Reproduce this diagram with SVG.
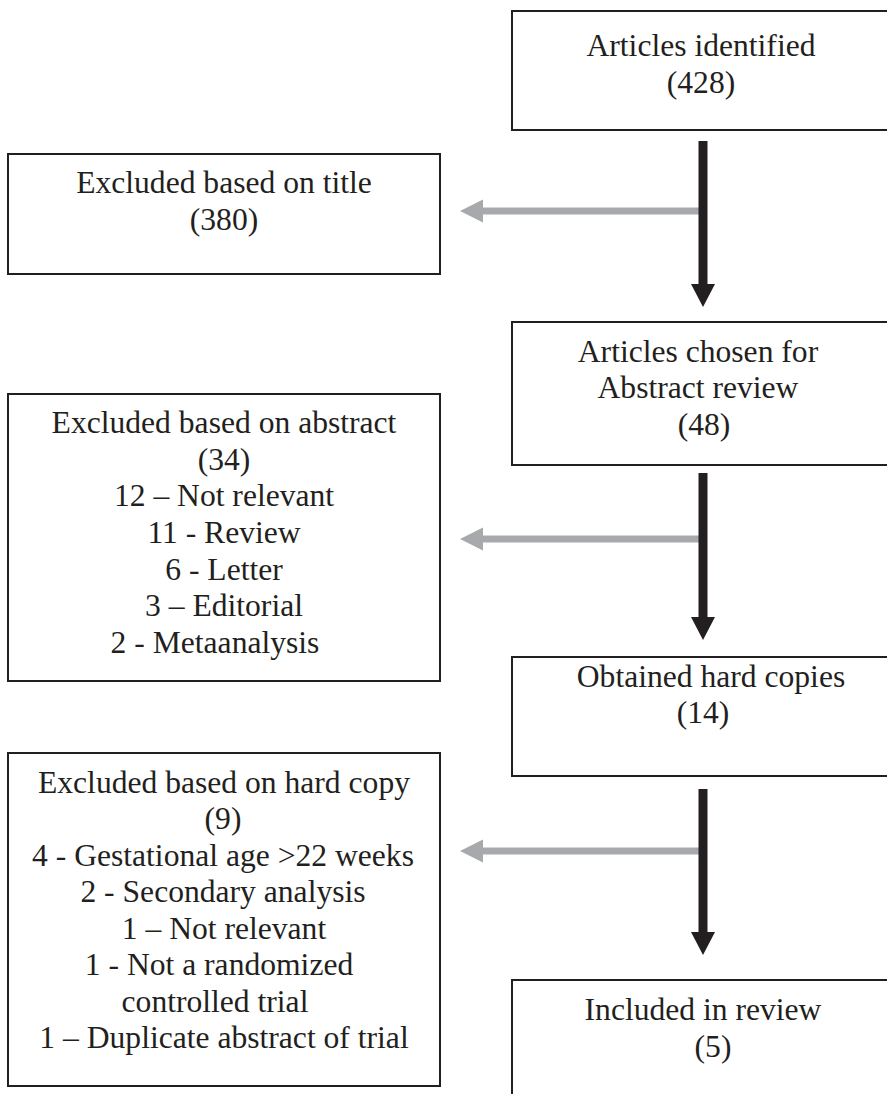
<svg xmlns="http://www.w3.org/2000/svg" width="887" height="1094" viewBox="0 0 887 1094">
<style>
.box{fill:#fff;stroke:#231F20;stroke-width:2}
text{font-family:"Liberation Serif","Times New Roman",serif;font-size:31.6px;fill:#231F20;text-anchor:middle}
.blk{fill:#231F20}
.gry{fill:#A7A9AC}
</style>
<rect width="887" height="1094" fill="#fff"/>
<g id="connectors">
  <path class="gry" d="M703,207.5 L483,207.5 L483,199.5 L460,211 L483,222.5 L483,214.5 L703,214.5 Z"/>
  <path class="blk" d="M698.5,141 L707.5,141 L707.5,284 L715,284 L703,307 L691,284 L698.5,284 Z"/>
  <path class="gry" d="M703,535.5 L483,535.5 L483,527.5 L460,539 L483,550.5 L483,542.5 L703,542.5 Z"/>
  <path class="blk" d="M698.5,473 L707.5,473 L707.5,617 L715,617 L703,640 L691,617 L698.5,617 Z"/>
  <path class="gry" d="M703,847.5 L483,847.5 L483,839.5 L460,851 L483,862.5 L483,854.5 L703,854.5 Z"/>
  <path class="blk" d="M698.5,789 L707.5,789 L707.5,932 L715,932 L703,955 L691,932 L698.5,932 Z"/>
</g>
<g id="n1">
  <rect class="box" x="512" y="11" width="400" height="119"/>
  <text x="701" y="56">Articles identified</text>
  <text x="701" y="93">(428)</text>
</g>
<g id="n2">
  <rect class="box" x="8" y="154" width="432" height="120"/>
  <text x="224" y="193">Excluded based on title</text>
  <text x="224" y="230">(380)</text>
</g>
<g id="n3">
  <rect class="box" x="512" y="322" width="400" height="143"/>
  <text x="698" y="362">Articles chosen for</text>
  <text x="698" y="398">Abstract review</text>
  <text x="704" y="435">(48)</text>
</g>
<g id="n4">
  <rect class="box" x="8" y="394" width="432" height="287"/>
  <text x="224" y="433">Excluded based on abstract</text>
  <text x="224" y="470">(34)</text>
  <text x="224" y="506">12 – Not relevant</text>
  <text x="224" y="543">11 - Review</text>
  <text x="224" y="580">6 - Letter</text>
  <text x="224" y="616">3 – Editorial</text>
  <text x="215" y="653">2 - Metaanalysis</text>
</g>
<g id="n5">
  <rect class="box" x="512" y="657" width="400" height="119"/>
  <text x="711" y="687">Obtained hard copies</text>
  <text x="703" y="723">(14)</text>
</g>
<g id="n6">
  <rect class="box" x="8" y="753" width="432" height="333"/>
  <text x="224" y="793">Excluded based on hard copy</text>
  <text x="223" y="829">(9)</text>
  <text x="223" y="866">4 - Gestational age &gt;22 weeks</text>
  <text x="223" y="902">2 - Secondary analysis</text>
  <text x="224" y="939">1 – Not relevant</text>
  <text x="219" y="975">1 - Not a randomized</text>
  <text x="215" y="1012">controlled trial</text>
  <text x="224" y="1048">1 – Duplicate abstract of trial</text>
</g>
<g id="n7">
  <rect class="box" x="512" y="980" width="400" height="200"/>
  <text x="703" y="1020">Included in review</text>
  <text x="713" y="1057">(5)</text>
</g>
</svg>
